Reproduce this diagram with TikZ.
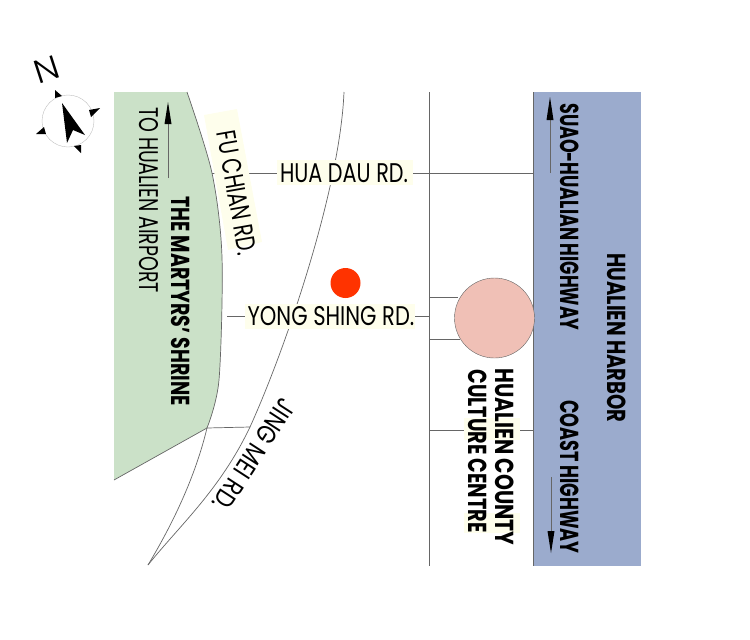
\documentclass[tikz,border=0pt]{standalone}
\usepackage{fontspec}
\setmainfont{Poppins}
\newfontfamily\thinfont{Poppins Light}
\definecolor{parkgreen}{RGB}{203,225,200}
\definecolor{seablue}{RGB}{155,171,205}
\definecolor{spotpink}{RGB}{240,192,182}
\definecolor{spotred}{RGB}{255,51,0}
\definecolor{paleyellow}{RGB}{254,254,236}
\tikzset{
    road/.style={draw=black!60,line width=0.7pt},
    lbl/.style={inner sep=0pt,font=\fontsize{27}{29}\selectfont},
    lblbold/.style={inner sep=0pt,font=\fontsize{26}{28}\selectfont\bfseries},
    pale/.style={fill=paleyellow},
}
\begin{document}
\begin{tikzpicture}[x=1pt,y=-1pt]
    \useasboundingbox (0,0) rectangle (750,640);
    \coordinate (GT) at (187,92);
    \coordinate (GB) at (207,428);
    \coordinate (F) at (148,565);
    \coordinate (JT) at (344,92);
    % areas
    \fill[parkgreen] (114,92) -- plot[smooth] coordinates {(187,92) (212,173) (222,257) (219,380) (207,428)}
        -- (114,480) -- cycle;
    \fill[seablue] (533,92) rectangle (641,566);
    \draw[road] (533,92) -- (533,566);
    % roads
    \draw[road] plot[smooth] coordinates {(187,92) (212,173) (222,257) (219,380) (207,428)};
    \draw[road] (GB) -- (114,480);
    \draw[road] (GB) .. controls (195,478) and (172,525) .. (F);
    \draw[road] (JT) .. controls (340,190) and (285,350) .. (250,427) .. controls (220,490) and (180,525) .. (F);
    \draw[road] (429.5,92) -- (429.5,566);
    \draw[road] (212,173) -- (533,173);
    \draw[road] (227,316) -- (429.5,316);
    \draw[road] (429.5,297) -- (458,297);
    \draw[road] (429.5,339) -- (460,339);
    \draw[road] (429.5,430.5) -- (533,430.5);
    \draw[road] (GB) -- (250,427);
    % pale label strips
    \fill[pale] (277,160) rectangle (413,185);
    \fill[pale] (245,304) rectangle (415,329);
    \fill[pale] (464,418) rectangle (520,440);
    \fill[pale] (464,513) rectangle (520,533);
    \fill[pale] (204,115) -- (237,109) -- (262,242) -- (228,250) -- cycle;
    % spots
    \draw[black!60,fill=spotpink] (494.5,318) circle (40pt);
    \fill[spotred] (345.5,283) circle (15pt);
    % arrows
    \draw[black!60] (168,178) -- (168,120);
    \fill (168,102) -- (171.5,124) -- (164.5,124) -- cycle;
    \draw[black!60] (550,173) -- (550,115);
    \fill (550,97) -- (553.5,120) -- (546.5,120) -- cycle;
    \draw[black!60] (551,477) -- (551,535);
    \fill (551,553) -- (554.5,531) -- (547.5,531) -- cycle;
    % compass
    \draw[black!25,fill=white] (68,121) circle (26pt);
    \fill (62,103) -- (85,135) -- (73,130) -- (67,143) -- cycle;
    \fill (55,90) -- (62,96) -- (55,98) -- cycle;
    \fill (100,108) -- (91,117) -- (89,110) -- cycle;
    \fill (81,153) -- (74,146) -- (81,145) -- cycle;
    \fill (36,134) -- (44,127) -- (46,134) -- cycle;
    \node[rotate=18,inner sep=0pt,font=\fontsize{33}{34}\thinfont,xscale=1.1] (north) at (47,70) {N};
    % labels
    \node[lbl,xscale=0.77] (huadau) at (344,173) {HUA DAU RD.};
    \node[lbl,xscale=0.78] (yongshing) at (331,316) {YONG SHING RD.};
    \node[rotate=-80,lbl,xscale=0.74] (fuchian) at (237,193) {FU CHIAN RD.};
    \node[rotate=-123,lbl,xscale=0.8] (jingmei) at (254,455) {JING MEI RD.};
    \node[rotate=-90,lbl,xscale=0.7] (airport) at (149,200) {TO HUALIEN AIRPORT};
    \node[rotate=-90,lblbold,xscale=0.73] (shrine) at (181,301) {THE MARTYRS' SHRINE};
    \node[rotate=-90,lblbold,xscale=0.75] (harbor) at (617,338) {HUALIEN HARBOR};
    \node[rotate=-90,lblbold,xscale=0.67] (suao) at (570,217) {SUAO-HUALIAN HIGHWAY};
    \node[rotate=-90,lblbold,xscale=0.68] (coast) at (570,477) {COAST HIGHWAY};
    \node[rotate=-90,lblbold,xscale=0.78] (county) at (505,457) {HUALIEN COUNTY};
    \node[rotate=-90,lblbold,xscale=0.74] (culture) at (478,451) {CULTURE CENTRE};
\end{tikzpicture}
\end{document}
